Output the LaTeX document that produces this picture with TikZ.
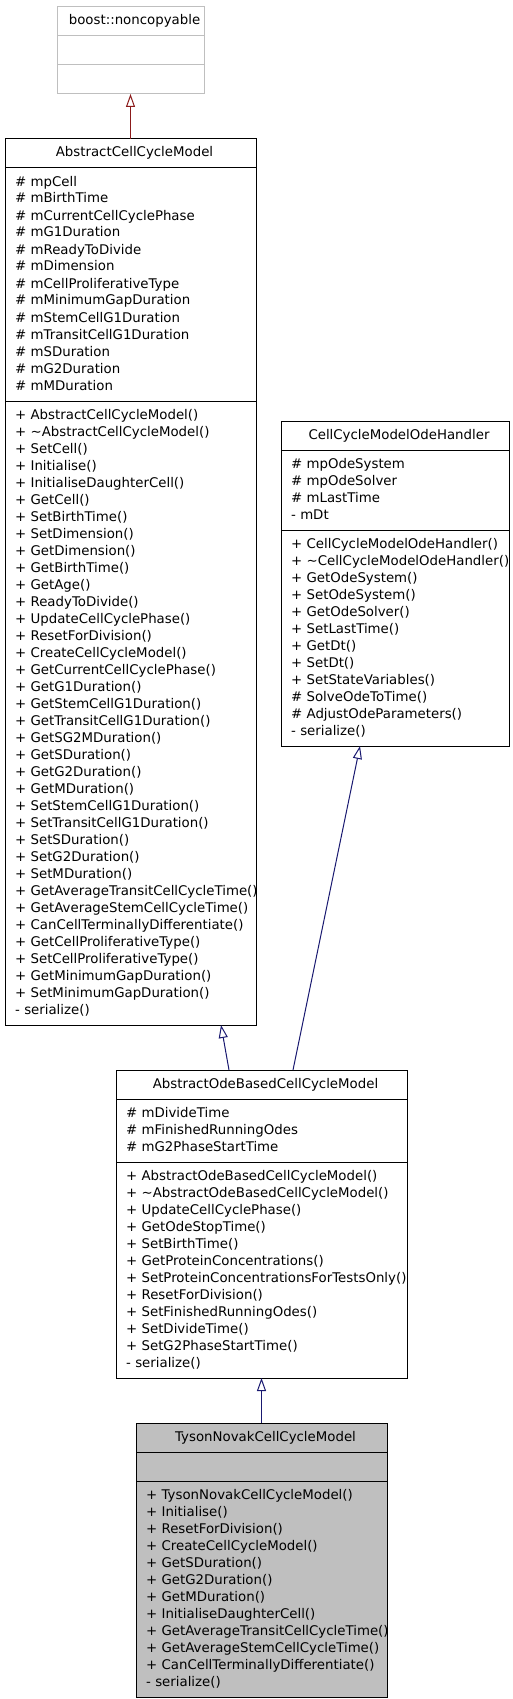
\documentclass[tikz,border=0pt]{standalone}
\usepackage{fontspec}
\setmainfont{DejaVu Sans}
\usetikzlibrary{shapes.multipart,arrows.meta}
\definecolor{edgeblue}{RGB}{25,25,112}
\definecolor{edgered}{RGB}{139,26,26}
\definecolor{classgrey}{RGB}{191,191,191}
\newcommand\umlstrut{\rule[-5pt]{0pt}{17pt}}
\newcommand\mem[1]{\mbox{\umlstrut#1}}
\newcommand\umltitle[1]{\makebox[\hsize]{\umlstrut\hspace{8pt}#1}}
\setlength{\parindent}{0pt}

\begin{document}
\begin{tikzpicture}[x=1pt,y=-1pt,
  umlclass/.style={draw,line width=1pt,rectangle split,rectangle split parts=3,
    anchor=north west,align=left,inner xsep=10pt,inner ysep=5.5pt,outer sep=0pt,
    font=\fontsize{13.33}{17}\selectfont},
  inherit/.style={line width=1pt,-{Triangle[open,length=13pt,width=9pt]}}]
  \useasboundingbox (0,0) rectangle (512,1699);

  \node[umlclass,draw=classgrey,text width=127pt] (nc) at (57,7)
  {\umltitle{boost::noncopyable}
   \nodepart{second}\umlstrut
   \nodepart{third}\umlstrut};

  \node[umlclass,text width=231pt] (acm) at (5,139)
  {\umltitle{AbstractCellCycleModel}
   \nodepart{second}
   \mem{\# mpCell}\\\mem{\# mBirthTime}\\\mem{\# mCurrentCellCyclePhase}\\
   \mem{\# mG1Duration}\\\mem{\# mReadyToDivide}\\\mem{\# mDimension}\\
   \mem{\# mCellProliferativeType}\\\mem{\# mMinimumGapDuration}\\
   \mem{\# mStemCellG1Duration}\\\mem{\# mTransitCellG1Duration}\\
   \mem{\# mSDuration}\\\mem{\# mG2Duration}\\\mem{\# mMDuration}
   \nodepart{third}
   \mem{+ AbstractCellCycleModel()}\\\mem{+ \textasciitilde AbstractCellCycleModel()}\\
   \mem{+ SetCell()}\\\mem{+ Initialise()}\\\mem{+ InitialiseDaughterCell()}\\
   \mem{+ GetCell()}\\\mem{+ SetBirthTime()}\\\mem{+ SetDimension()}\\
   \mem{+ GetDimension()}\\\mem{+ GetBirthTime()}\\\mem{+ GetAge()}\\
   \mem{+ ReadyToDivide()}\\\mem{+ UpdateCellCyclePhase()}\\\mem{+ ResetForDivision()}\\
   \mem{+ CreateCellCycleModel()}\\\mem{+ GetCurrentCellCyclePhase()}\\
   \mem{+ GetG1Duration()}\\\mem{+ GetStemCellG1Duration()}\\
   \mem{+ GetTransitCellG1Duration()}\\\mem{+ GetSG2MDuration()}\\
   \mem{+ GetSDuration()}\\\mem{+ GetG2Duration()}\\\mem{+ GetMDuration()}\\
   \mem{+ SetStemCellG1Duration()}\\\mem{+ SetTransitCellG1Duration()}\\
   \mem{+ SetSDuration()}\\\mem{+ SetG2Duration()}\\\mem{+ SetMDuration()}\\
   \mem{+ GetAverageTransitCellCycleTime()}\\\mem{+ GetAverageStemCellCycleTime()}\\
   \mem{+ CanCellTerminallyDifferentiate()}\\\mem{+ GetCellProliferativeType()}\\
   \mem{+ SetCellProliferativeType()}\\\mem{+ GetMinimumGapDuration()}\\
   \mem{+ SetMinimumGapDuration()}\\\mem{- serialize()}};

  \node[umlclass,text width=208pt] (handler) at (281,421)
  {\umltitle{CellCycleModelOdeHandler}
   \nodepart{second}
   \mem{\# mpOdeSystem}\\\mem{\# mpOdeSolver}\\\mem{\# mLastTime}\\\mem{- mDt}
   \nodepart{third}
   \mem{+ CellCycleModelOdeHandler()}\\\mem{+ \textasciitilde CellCycleModelOdeHandler()}\\
   \mem{+ GetOdeSystem()}\\\mem{+ SetOdeSystem()}\\\mem{+ GetOdeSolver()}\\
   \mem{+ SetLastTime()}\\\mem{+ GetDt()}\\\mem{+ SetDt()}\\
   \mem{+ SetStateVariables()}\\\mem{\# SolveOdeToTime()}\\
   \mem{\# AdjustOdeParameters()}\\\mem{- serialize()}};

  \node[umlclass,text width=271pt] (aob) at (116,1070)
  {\umltitle{AbstractOdeBasedCellCycleModel}
   \nodepart{second}
   \mem{\# mDivideTime}\\\mem{\# mFinishedRunningOdes}\\\mem{\# mG2PhaseStartTime}
   \nodepart{third}
   \mem{+ AbstractOdeBasedCellCycleModel()}\\
   \mem{+ \textasciitilde AbstractOdeBasedCellCycleModel()}\\
   \mem{+ UpdateCellCyclePhase()}\\\mem{+ GetOdeStopTime()}\\\mem{+ SetBirthTime()}\\
   \mem{+ GetProteinConcentrations()}\\\mem{+ SetProteinConcentrationsForTestsOnly()}\\
   \mem{+ ResetForDivision()}\\\mem{+ SetFinishedRunningOdes()}\\
   \mem{+ SetDivideTime()}\\\mem{+ SetG2PhaseStartTime()}\\\mem{- serialize()}};

  \node[umlclass,fill=classgrey,text width=231pt] (tyson) at (136,1423)
  {\umltitle{TysonNovakCellCycleModel}
   \nodepart{second}\umlstrut
   \nodepart{third}
   \mem{+ TysonNovakCellCycleModel()}\\\mem{+ Initialise()}\\\mem{+ ResetForDivision()}\\
   \mem{+ CreateCellCycleModel()}\\\mem{+ GetSDuration()}\\\mem{+ GetG2Duration()}\\
   \mem{+ GetMDuration()}\\\mem{+ InitialiseDaughterCell()}\\
   \mem{+ GetAverageTransitCellCycleTime()}\\\mem{+ GetAverageStemCellCycleTime()}\\
   \mem{+ CanCellTerminallyDifferentiate()}\\\mem{- serialize()}};

  \draw[inherit,edgered] (acm.north) -- (nc.south);
  \draw[inherit,edgeblue] ([xshift=113pt]aob.north west) -- ([xshift=216pt]acm.south west);
  \draw[inherit,edgeblue] ([xshift=177pt]aob.north west) -- ([xshift=79pt]handler.south west);
  \draw[inherit,edgeblue] (tyson.north) -- (aob.south);
\end{tikzpicture}
\end{document}
